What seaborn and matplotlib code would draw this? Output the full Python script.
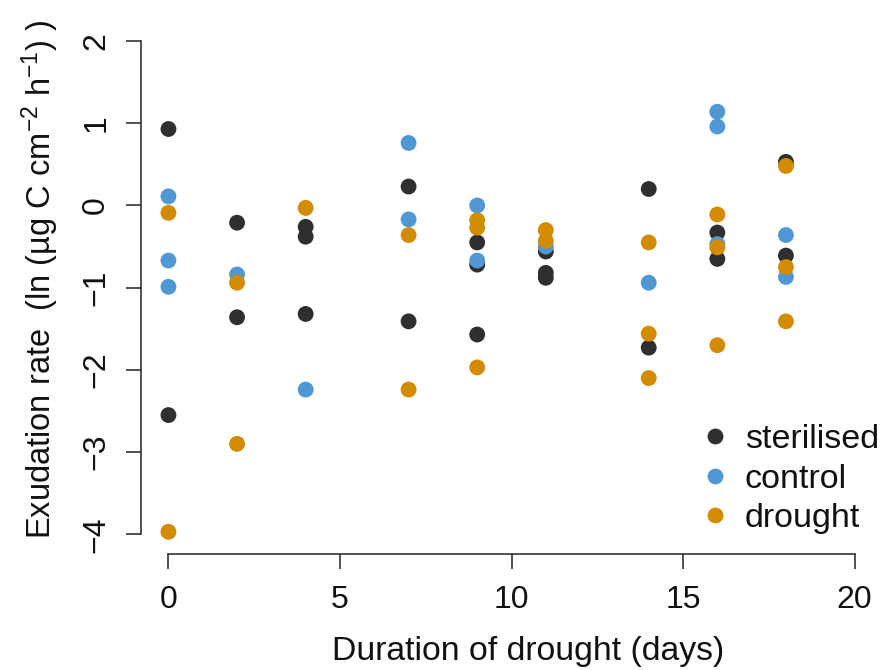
import numpy as np
import pandas as pd
import matplotlib
matplotlib.use("Agg")
import matplotlib.pyplot as plt
import seaborn as sns

# ---- data ----
groups = ["sterilised", "control", "drought"]
colors = ["#2f2f2f", "#4f98d3", "#d38b00"]

sterilised_day = [0, 0, 2, 2, 4, 4, 4, 7, 7, 9, 9, 9, 11, 11, 11, 14, 14, 16, 16, 18, 18]
sterilised_val = [0.93, -2.55, -0.21, -1.36, -0.26, -0.38, -1.32, 0.23, -1.41,
                  -0.45, -0.72, -1.57, -0.56, -0.82, -0.88, 0.20, -1.73, -0.33, -0.65, 0.53, -0.61]

control_day = [0, 0, 0, 2, 4, 7, 7, 9, 9, 11, 14, 16, 16, 16, 18, 18]
control_val = [0.11, -0.67, -0.99, -0.84, -2.24, 0.76, -0.17, 0.0, -0.67, -0.50,
               -0.94, 1.14, 0.96, -0.47, -0.36, -0.87]

drought_day = [0, 0, 2, 2, 4, 7, 7, 9, 9, 9, 11, 11, 14, 14, 14, 16, 16, 16, 18, 18, 18]
drought_val = [-0.09, -3.97, -0.94, -2.90, -0.03, -0.36, -2.24, -0.18, -0.27, -1.97,
               -0.30, -0.43, -0.45, -1.56, -2.10, -0.11, -0.51, -1.70, 0.48, -0.75, -1.41]

x_ticks = [0, 5, 10, 15, 20]
y_ticks = [-4, -3, -2, -1, 0, 1, 2]
y_tick_labels = ["\u22124", "\u22123", "\u22122", "\u22121", "0", "1", "2"]

df = pd.concat([
    pd.DataFrame({"day": sterilised_day, "rate": sterilised_val, "group": "sterilised"}),
    pd.DataFrame({"day": control_day, "rate": control_val, "group": "control"}),
    pd.DataFrame({"day": drought_day, "rate": drought_val, "group": "drought"}),
], ignore_index=True)

# ---- style ----
sns.set_style("ticks")
plt.rcParams["font.family"] = ["Liberation Sans", "DejaVu Sans"]
plt.rcParams["mathtext.fontset"] = "custom"
plt.rcParams["mathtext.rm"] = "Liberation Sans"
plt.rcParams["mathtext.it"] = "Liberation Sans"
plt.rcParams["mathtext.default"] = "regular"

fig = plt.figure(figsize=(8.82, 6.70), dpi=100)
ax_w = 882 - 141
ax = fig.add_axes([141 / 882, (670 - 554) / 670, ax_w / 882, (554 - 21.3) / 670])

sns.scatterplot(data=df, x="day", y="rate", hue="group", hue_order=groups,
                palette=dict(zip(groups, colors)), s=130, linewidth=0,
                ax=ax, legend=True, zorder=3)

ax.set_xlim(-0.8, 20.8)
ax.set_ylim(-4.24, 2.24)
ax.set_xticks(x_ticks)
ax.set_yticks(y_ticks)
ax.set_yticklabels(y_tick_labels, rotation=90, va="center")
for s in ["top", "right"]:
    ax.spines[s].set_visible(False)
ax.spines["bottom"].set_bounds(0, 20)
ax.spines["left"].set_bounds(-4, 2)
for s in ["bottom", "left"]:
    ax.spines[s].set_linewidth(1.1)
    ax.spines[s].set_color("#222222")
ax.tick_params(axis="both", direction="out", length=10.5, width=1.1,
               colors="#222222", labelsize=23, labelcolor="#111111")
ax.tick_params(axis="x", pad=12)
ax.tick_params(axis="y", pad=11)

ax.set_xlabel("Duration of drought (days)", fontsize=24.3, color="#111111")
ax.xaxis.set_label_coords((528 - 141) / ax_w, -(636 - 554) / (554 - 21.3))
ax.set_ylabel(r"Exudation rate  (ln (µg C cm$^{-2}$ h$^{-1}$) )", fontsize=23.5,
              color="#111111")
ax.yaxis.set_label_coords(-80 / ax_w, 0.515)

leg = ax.legend(loc="upper left", bbox_to_anchor=(698 / 882, 1 - 424 / 670),
                bbox_transform=fig.transFigure, frameon=False, fontsize=24.5,
                handlelength=1.0, handletextpad=0.38, labelspacing=0.25,
                borderpad=0, borderaxespad=0, markerscale=1.0)
for t in leg.get_texts():
    t.set_color("#111111")

fig.savefig("out.png", dpi=100)
